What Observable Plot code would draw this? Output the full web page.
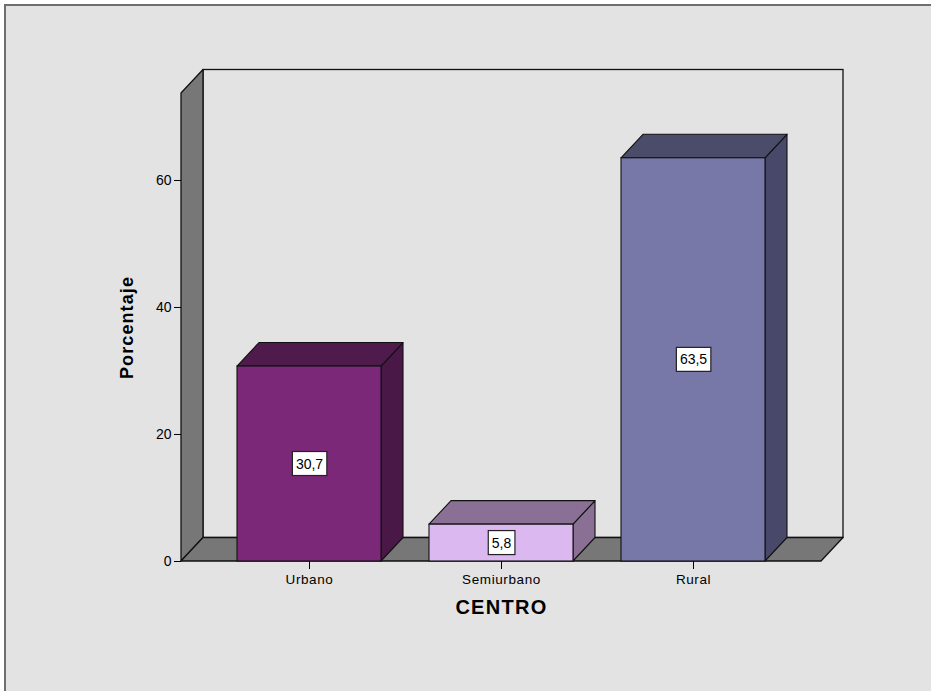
<!DOCTYPE html>
<html>
<head>
<meta charset="utf-8">
<script src="https://cdn.jsdelivr.net/npm/d3@7"></script>
<script src="https://cdn.jsdelivr.net/npm/@observablehq/plot@0.6"></script>
<style>
  html, body { margin: 0; padding: 0; background: #ffffff; overflow: hidden; }
  #frame {
    position: fixed; left: 4px; top: 4px; right: -60px; bottom: -60px;
    background: #e3e3e3; border-left: 2px solid #6f6f6f; border-top: 2px solid #6f6f6f;
  }
  #chart { position: fixed; left: 0; top: 0; }
</style>
</head>
<body>
<div id="frame"></div>
<div id="chart"></div>
<script>
// ---- data ----
const categories = ["Urbano", "Semiurbano", "Rural"];
const values = [30.7, 5.8, 63.5];
const valueLabels = ["30,7", "5,8", "63,5"];
const yTicks = [0, 20, 40, 60];
const frontColors = ["#7b2878", "#dcb8f0", "#7878a8"];
const topColors = ["#4f1b4c", "#8a7094", "#4b4b6a"];
const sideColors = ["#4a1847", "#8a7094", "#48486a"];

// ---- geometry helpers (in scale units) ----
const yMax = 73.7;           // top of the front wall
const xLo = -2 / 3, xHi = 2 + 2 / 3;
const halfW = 0.375;         // half bar width, in category steps
const DX = 22 / 192;         // depth offset along x (category steps)
const DY = 23.5 / 6.35;      // depth offset along y (percent units)

const bars = categories.map((c, i) => ({cat: c, i, v: values[i], label: valueLabels[i]}));

const tops = bars.flatMap(b => [
  {cat: b.cat, y: b.v, x1: b.i - halfW, x2: b.i + halfW},
  {cat: b.cat, y: b.v + DY, x1: b.i - halfW + DX, x2: b.i + halfW + DX}
]);
const sides = bars.flatMap(b => [
  {cat: b.cat, x: b.i + halfW, y1: 0, y2: b.v},
  {cat: b.cat, x: b.i + halfW + DX, y1: DY, y2: b.v + DY}
]);
const leftWall = [
  {x: xLo, y1: 0, y2: yMax},
  {x: xLo + DX, y1: DY, y2: yMax + DY}
];
const floor = [
  {y: 0, x1: xLo, x2: xHi},
  {y: DY, x1: xLo + DX, x2: xHi + DX}
];
const backWall = [{x1: xLo + DX, x2: xHi + DX, y1: DY, y2: yMax + DY}];

const colorOf = (arr) => d => arr[categories.indexOf(d.cat)];
const stroke = "#111";
const sans = "'Liberation Sans', Arial, sans-serif";

const chart = Plot.plot({
  width: 931,
  height: 691,
  marginLeft: 181,
  marginRight: 110,
  marginTop: 93,
  marginBottom: 130,
  style: {background: "transparent", color: "#000", fontFamily: sans, overflow: "visible"},
  x: {type: "linear", domain: [xLo, xHi]},
  y: {type: "linear", domain: [0, yMax]},
  marks: [
    Plot.rect(backWall, {x1: "x1", x2: "x2", y1: "y1", y2: "y2", fill: "#e3e3e3", stroke, strokeWidth: 1.3}),
    Plot.areaY(leftWall, {x: "x", y1: "y1", y2: "y2", fill: "#777777", stroke, strokeWidth: 1.3}),
    Plot.areaX(floor, {y: "y", x1: "x1", x2: "x2", fill: "#777777", stroke, strokeWidth: 1.3}),
    Plot.areaY(sides, {x: "x", y1: "y1", y2: "y2", z: "cat", fill: colorOf(sideColors), stroke, strokeWidth: 1.1, strokeLinejoin: "round"}),
    Plot.areaX(tops, {y: "y", x1: "x1", x2: "x2", z: "cat", fill: colorOf(topColors), stroke, strokeWidth: 1.1, strokeLinejoin: "round"}),
    Plot.rect(bars, {x1: d => d.i - halfW, x2: d => d.i + halfW, y1: 0, y2: "v", fill: d => frontColors[d.i], stroke, strokeWidth: 1.1}),
    Plot.text(bars, {x: "i", y: d => d.v / 2, text: "label", fontSize: 14, fill: "#000"}),
    Plot.axisY({ticks: yTicks, tickSize: 7, tickPadding: 3, fontSize: 14, label: null}),
    Plot.axisX({ticks: bars.map(b => b.i), tickFormat: i => categories[i], tickSize: 8, tickPadding: 5, fontSize: 13.5, label: null}),
    Plot.text(["Porcentaje"], {frameAnchor: "left", textAnchor: "middle", dx: -54, rotate: -90, fontSize: 18, fontWeight: "bold", fill: "#000"}),
    Plot.text(["CENTRO"], {frameAnchor: "bottom", dy: 52, fontSize: 20, fontWeight: "bold", fill: "#000"})
  ]
});
document.getElementById("chart").append(chart);

// letter spacing tweaks to mimic the slightly stretched original lettering
chart.querySelectorAll("text").forEach(t => {
  const s = t.textContent;
  if (s === "Porcentaje") t.setAttribute("letter-spacing", "1.1");
  if (s === "CENTRO") t.setAttribute("letter-spacing", "1.3");
  if (categories.includes(s)) t.setAttribute("letter-spacing", "0.6");
});

// white boxes behind value labels
Array.from(chart.querySelectorAll("text"))
  .filter(t => valueLabels.includes(t.textContent))
  .forEach(t => {
    const bb = t.getBBox();
    const r = document.createElementNS("http://www.w3.org/2000/svg", "rect");
    const padX = 3.5, h = 24;
    r.setAttribute("x", bb.x - padX);
    r.setAttribute("y", bb.y + bb.height / 2 - h / 2);
    r.setAttribute("width", bb.width + 2 * padX);
    r.setAttribute("height", h);
    r.setAttribute("fill", "#ffffff");
    r.setAttribute("stroke", "#222");
    r.setAttribute("stroke-width", "1.2");
    const tr = t.getAttribute("transform");
    if (tr) r.setAttribute("transform", tr);
    t.parentNode.insertBefore(r, t);
  });
</script>
</body>
</html>
